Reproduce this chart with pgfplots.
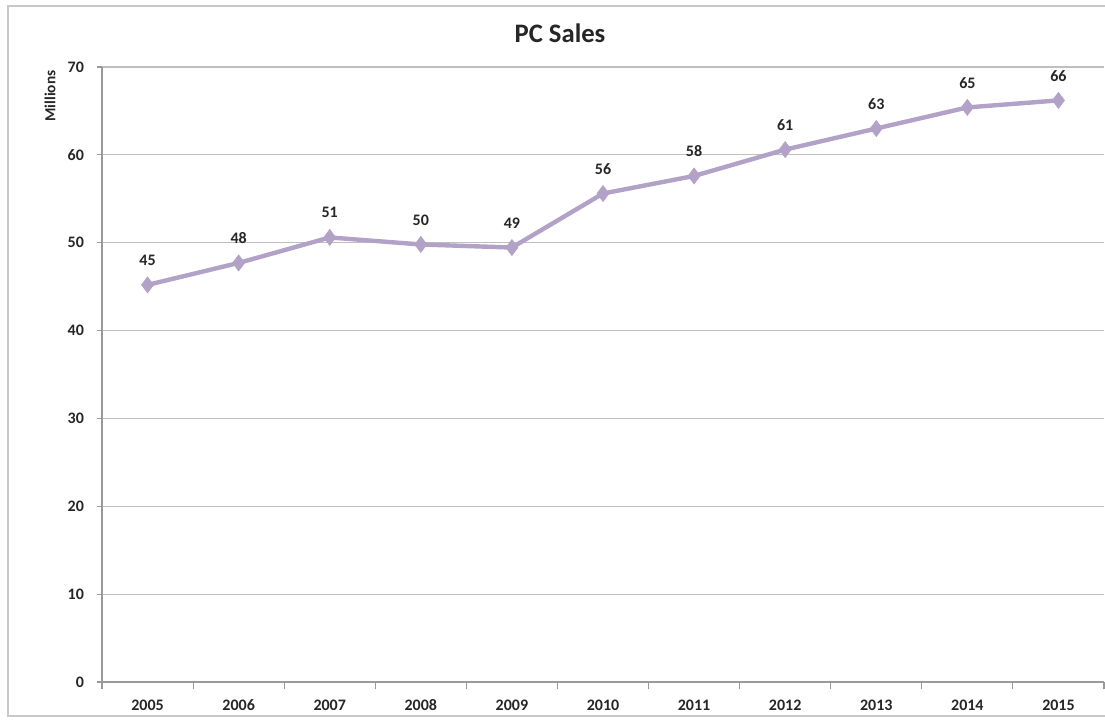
\documentclass[border=0pt]{standalone}
\usepackage{pgfplots}
\pgfplotsset{compat=1.18}
\usepackage{fontspec}
\setmainfont{Carlito}
\definecolor{lineC}{RGB}{179,162,199}
\definecolor{gridC}{RGB}{191,191,191}
\definecolor{frameC}{RGB}{200,200,200}
\definecolor{txt}{RGB}{38,38,38}
\begin{document}
\begin{tikzpicture}[x=0.75pt,y=0.75pt]
\useasboundingbox (0,0) rectangle (1105,722);
\draw[frameC,line width=1.2pt] (1112,716) -- (8,716) -- (8,6) -- (1112,6);
\node[font=\fontsize{20}{24}\selectfont\bfseries,text=txt] at (560,689) {PC Sales};
\node[font=\fontsize{11.5}{13}\selectfont\bfseries,text=txt,rotate=90] at (50,626) {Millions};
\begin{axis}[
  at={(76.5pt,30pt)}, anchor=south west,
  scale only axis, width=751.5pt, height=461.25pt,
  xmin=-0.5, xmax=10.5, ymin=0, ymax=70,
  axis x line*=bottom, axis y line*=left,
  axis line style={gridC!80!black, line width=0.9pt},
  ytick={0,10,...,70},
  xtick={0,...,10},
  xticklabels={2005,2006,2007,2008,2009,2010,2011,2012,2013,2014,2015},
  minor xtick={-0.5,0.5,...,10.5},
  major x tick style={draw=none},
  minor x tick style={gridC!80!black, line width=0.8pt},
  minor tick length=5pt,
  major tick length=4pt,
  y tick style={gridC!80!black, line width=0.8pt},
  tick align=outside,
  ymajorgrids, grid style={gridC, line width=0.9pt},
  tick label style={font=\fontsize{12}{14}\selectfont\bfseries, text=txt},
  /pgf/number format/assume math mode=true,
  xticklabel style={yshift=-6pt, text height=1.6ex, text depth=0pt},
  yticklabel style={xshift=-6pt},
  clip=false,
]
\addplot[color=lineC, line width=3.3pt, mark=diamond*, mark size=6pt,
  mark options={fill=lineC, draw=lineC, line width=0.5pt},
  point meta=explicit symbolic,
  nodes near coords,
  nodes near coords style={font=\fontsize{12}{14}\selectfont\bfseries, text=txt, anchor=center, inner sep=0pt, yshift=18.5pt}]
coordinates {
(0,45.2) [45]
(1,47.7) [48]
(2,50.6) [51]
(3,49.8) [50]
(4,49.45) [49]
(5,55.6) [56]
(6,57.6) [58]
(7,60.6) [61]
(8,63.0) [63]
(9,65.4) [65]
(10,66.2) [66]
};
\end{axis}
\end{tikzpicture}
\end{document}
